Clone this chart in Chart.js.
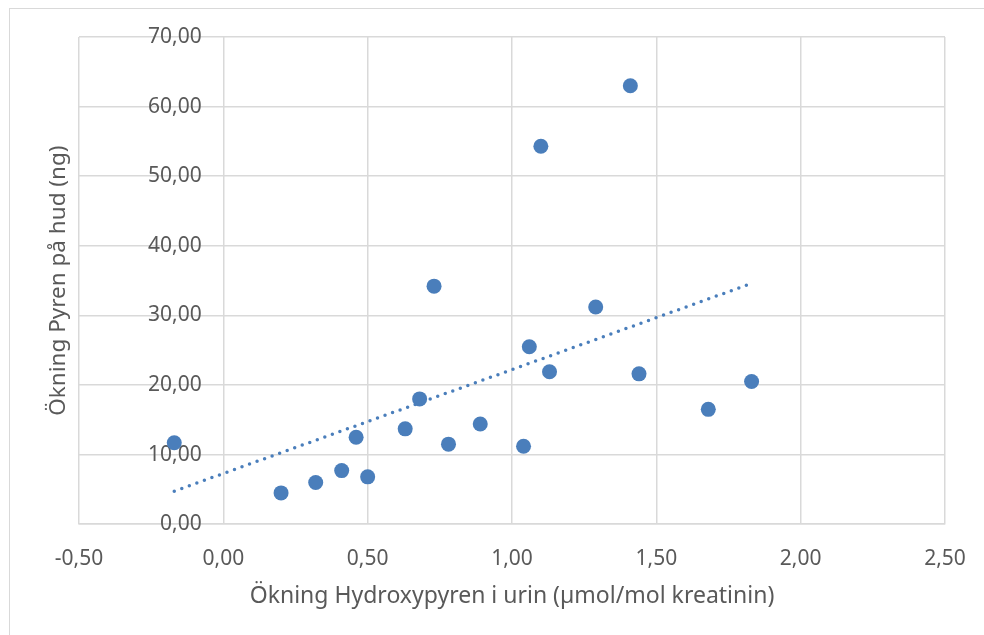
<!DOCTYPE html>
<html>
<head>
<meta charset="utf-8">
<script src="https://cdn.jsdelivr.net/npm/chart.js@4.4.1/dist/chart.umd.min.js"></script>
<style>
  html, body { margin: 0; padding: 0; background: #fff; }
  #wrap { position: relative; width: 984px; height: 635px; overflow: hidden; }
  #frame {
    position: absolute; left: 9px; top: 8px; width: 1200px; height: 900px;
    border-left: 1px solid #d9d9d9; border-top: 1px solid #d9d9d9;
    pointer-events: none;
  }
</style>
</head>
<body>
<div id="wrap">
  <canvas id="scatterChart" width="984" height="635"></canvas>
  <div id="frame"></div>
</div>
<script>
// values
var hydroxypyren = [-0.17, 0.20, 0.32, 0.41, 0.46, 0.50, 0.63, 0.68, 0.73, 0.78,
                    0.89, 1.04, 1.06, 1.10, 1.13, 1.29, 1.41, 1.44, 1.68, 1.83];
var pyren = [11.7, 4.5, 6.0, 7.7, 12.5, 6.8, 13.7, 18.0, 34.2, 11.5,
             14.4, 11.2, 25.5, 54.3, 21.9, 31.2, 63.0, 21.6, 16.5, 20.5];

// linear trendline ends (as drawn by Excel)
var trendX = [-0.17, 1.83];
var trendY = [4.75, 34.6];

var xTitle = 'Ökning Hydroxypyren i urin (µmol/mol kreatinin)';
var yTitle = 'Ökning Pyren på hud (ng)';

document.addEventListener('DOMContentLoaded', function () {

    var points = [];
    hydroxypyren.forEach(function (x, i) {
        points.push({ x: x, y: pyren[i] });
    });

    var trend = [];
    trendX.forEach(function (x, i) {
        trend.push({ x: x, y: trendY[i] });
    });

    var gridColor = '#d9d9d9';
    var textColor = '#595959';
    var fontFamily = '"Noto Sans", "Open Sans", sans-serif';

    function comma(v) {
        return Number(v).toFixed(2).replace('.', ',');
    }

    var ctx = document.getElementById('scatterChart').getContext('2d');

    new Chart(ctx, {
        type: 'scatter',
        data: {
            datasets: [{
                type: 'line',
                data: trend,
                borderColor: '#4a7ebb',
                borderWidth: 3.5,
                borderDash: [0, 8],
                borderCapStyle: 'round',
                pointRadius: 0,
                fill: false
            }, {
                data: points,
                backgroundColor: '#4a7ebb',
                borderColor: '#4a7ebb',
                borderWidth: 0,
                pointRadius: 7.5
            }]
        },
        options: {
            responsive: false,
            animation: false,
            layout: {
                padding: { left: 0, right: 39, top: 37, bottom: 0 }
            },
            plugins: {
                legend: { display: false },
                tooltip: { enabled: false }
            },
            scales: {
                x: {
                    type: 'linear',
                    position: 'bottom',
                    min: -0.5,
                    max: 2.5,
                    ticks: {
                        stepSize: 0.5,
                        padding: 2,
                        color: textColor,
                        font: { family: fontFamily, size: 21 },
                        callback: comma
                    },
                    // invisible tick marks give the gap under the plot
                    grid: {
                        color: gridColor,
                        lineWidth: 1.5,
                        drawTicks: true,
                        tickLength: 20,
                        tickColor: 'rgba(0,0,0,0)'
                    },
                    border: { color: gridColor, width: 1.5 },
                    title: {
                        display: true,
                        text: xTitle,
                        color: textColor,
                        font: { family: fontFamily, size: 23 },
                        padding: { top: 9, bottom: 25 }
                    }
                },
                y: {
                    type: 'linear',
                    // labels sit just left of the x = 0 line, like Excel
                    position: { x: -0.075 },
                    min: 0,
                    max: 70,
                    ticks: {
                        stepSize: 10,
                        color: textColor,
                        font: { family: fontFamily, size: 21 },
                        callback: comma
                    },
                    grid: { color: gridColor, lineWidth: 1.5, drawTicks: false },
                    border: { display: false }
                },
                yTitle: {
                    type: 'linear',
                    position: 'left',
                    min: 0,
                    max: 70,
                    ticks: { display: false },
                    grid: { display: false, drawTicks: false },
                    border: { display: false },
                    title: {
                        display: true,
                        text: yTitle,
                        color: textColor,
                        font: { family: fontFamily, size: 22.5 },
                        padding: { top: 45, bottom: 7 }
                    }
                }
            }
        }
    });
});
</script>
</body>
</html>
